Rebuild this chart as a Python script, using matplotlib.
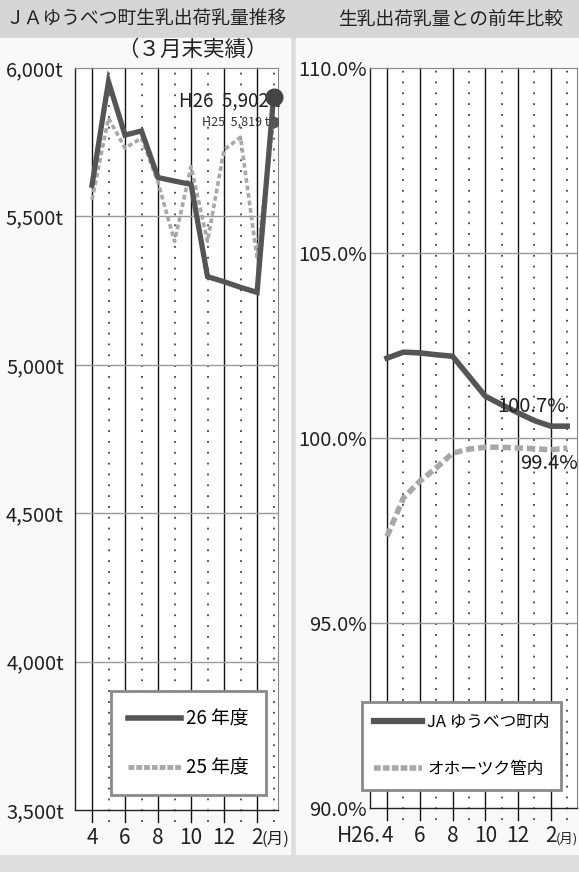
import matplotlib.pyplot as plt
from matplotlib.patches import Rectangle
from matplotlib.lines import Line2D

plt.rcParams['font.family'] = ['Noto Sans CJK JP', 'DejaVu Sans']

W, H = 579, 872

# 月 (4月〜翌3月)
months = [4, 5, 6, 7, 8, 9, 10, 11, 12, 1, 2, 3]
tick_labels = ["4", "6", "8", "10", "12", "2"]

# 生乳出荷乳量 (t)
h26 = [5605, 5954, 5774, 5788, 5631, 5619, 5608, 5297, 5280, 5261, 5244, 5902]
h25 = [5556, 5831, 5730, 5764, 5615, 5416, 5668, 5416, 5724, 5767, 5360, 5819]

# 前年比 (%)
ja_ratio = [102.16, 102.32, 102.30, 102.25, 102.21, 101.67, 101.13, 100.90,
            100.68, 100.47, 100.32, 100.32]
okh_ratio = [97.34, 98.38, 98.83, 99.19, 99.59, 99.70, 99.75, 99.75,
             99.73, 99.71, 99.68, 99.73]

DARK = '#555555'
LIGHT = '#a8a8a8'
TXT = '#222222'

fig = plt.figure(figsize=(W / 100, H / 100), dpi=100)
fig.patch.set_facecolor('#dedede')

# 背景パネル
def px_rect(x0, y0, x1, y1, color):
    fig.patches.append(Rectangle((x0 / W, 1 - y1 / H), (x1 - x0) / W, (y1 - y0) / H,
                                 transform=fig.transFigure, color=color, zorder=-10))

px_rect(0, 0, W, 38, '#d6d6d6')
px_rect(0, 38, 290, 854, '#f9f9f9')
px_rect(296, 38, W, 854, '#f9f9f9')

fig.text(6 / W, 1 - 19 / H, "ＪＡゆうべつ町生乳出荷乳量推移", fontsize=13.5,
         ha='left', va='center', color=TXT)
fig.text(338 / W, 1 - 19 / H, "生乳出荷乳量との前年比較", fontsize=13.5,
         ha='left', va='center', color=TXT)
fig.text(192 / W, 1 - 50 / H, "（３月末実績）", fontsize=15.5,
         ha='center', va='center', color=TXT)

x = list(range(len(months)))

def setup_grid(ax, grid_vals, month_x, month_size):
    for i in x:
        if i % 2 == 0:
            ax.axvline(i, ymin=-0.016, ymax=1, color='#111111', lw=1.0,
                       clip_on=False, zorder=1)
        else:
            ax.axvline(i, ymin=-0.016, ymax=1, color='#444444', lw=1.3,
                       ls=(0, (1, 5)), clip_on=False, zorder=1)
    for v in grid_vals:
        ax.axhline(v, color='#9a9a9a', lw=1.0, zorder=1)
    ax.set_facecolor('white')
    for s in ['top', 'right']:
        ax.spines[s].set_color('#888888')
        ax.spines[s].set_linewidth(0.8)
    for s in ['left', 'bottom']:
        ax.spines[s].set_color('#222222')
        ax.spines[s].set_linewidth(1.0)
    ax.set_xticks(x[::2])
    ax.set_xticklabels(tick_labels, fontsize=15, color=TXT)
    ax.tick_params(axis='x', length=0, pad=12)
    ax.tick_params(axis='y', length=0, pad=8)
    # 「(月)」
    ax.text(month_x, -0.046, "(月)", transform=ax.get_xaxis_transform(),
            fontsize=month_size, ha='left', va='baseline', color=TXT)


# 左: 出荷乳量推移
ax1 = fig.add_axes([75 / W, 1 - 810 / H, 203 / W, 742 / H])
ax1.set_xlim(-1.03, 11.27)
ax1.set_ylim(3500, 6000)
setup_grid(ax1, [5500, 5000, 4500, 4000], 10.3, 12)
yt1 = [3500, 4000, 4500, 5000, 5500, 6000]
ax1.set_yticks(yt1)
ax1.set_yticklabels([f"{v:,}t" for v in yt1], fontsize=14.5, color=TXT)

ax1.plot(x, h25, color=LIGHT, lw=2.6, ls=(0, (1.3, 0.8)), zorder=3)
ax1.plot(x, h26, color=DARK, lw=3.8, solid_joinstyle='miter', zorder=4)
ax1.plot(x[-1], h25[-1], 'o', color=DARK, ms=7, zorder=5)
ax1.plot(x[-1], h26[-1], 'o', color='#444444', ms=12, zorder=6, clip_on=False)

ax1.text(11.4, 5889, "H26  5,902 t", fontsize=13.5, ha='right', va='center',
         color=TXT, zorder=4)
ax1.text(10.75, 5818, "H25  5,819 t", fontsize=9, ha='right', va='center',
         color='#333333', zorder=4)

leg1 = ax1.legend(handles=[Line2D([], [], color=DARK, lw=4),
                           Line2D([], [], color=LIGHT, lw=3.5, ls=(0, (1.2, 0.4)))],
                  labels=["26 年度", "25 年度"], loc='lower right',
                  bbox_to_anchor=(0.94, 0.02), fontsize=13.5, frameon=True,
                  fancybox=False, handlelength=2.8, handletextpad=0.3,
                  labelspacing=1.5, borderpad=0.9, borderaxespad=0)
leg1.get_frame().set_edgecolor('#8a8a8a')
leg1.get_frame().set_linewidth(2)
leg1.get_frame().set_facecolor('white')
leg1.get_frame().set_alpha(1)
leg1.set_zorder(10)

# 右: 前年比
ax2 = fig.add_axes([370 / W, 1 - 808 / H, 207 / W, 740 / H])
ax2.set_xlim(-1.04, 11.6)
ax2.set_ylim(90, 110)
setup_grid(ax2, [105, 100, 95], 10.33, 9.5)
yt2 = [90, 95, 100, 105, 110]
ax2.set_yticks(yt2)
ax2.set_yticklabels([f"{v:.1f}%" for v in yt2], fontsize=14.5, color=TXT)
ax2.tick_params(axis='y', pad=2)
ax2.text(-0.4, -0.046, "H26.", transform=ax2.get_xaxis_transform(), fontsize=15,
         ha='right', va='baseline', color=TXT)

ax2.plot(x, okh_ratio, color=LIGHT, lw=4, ls=(0, (1.5, 0.7)), zorder=3)
ax2.plot(x, ja_ratio, color=DARK, lw=4, zorder=4)

ax2.text(6.7, 100.86, "100.7%", fontsize=14.5, ha='left', va='center',
         color=TXT, zorder=5, clip_on=False)
ax2.text(8.1, 99.32, "99.4%", fontsize=14.5, ha='left', va='center',
         color=TXT, zorder=5)

leg2 = ax2.legend(handles=[Line2D([], [], color=DARK, lw=4.5),
                           Line2D([], [], color=LIGHT, lw=4, ls=(0, (1.2, 0.4)))],
                  labels=["JA ゆうべつ町内", "オホーツク管内"], loc='lower right',
                  bbox_to_anchor=(0.925, 0.025), fontsize=12, frameon=True,
                  fancybox=False, handlelength=2.9, handletextpad=0.3,
                  labelspacing=1.8, borderpad=0.7, borderaxespad=0)
leg2.get_frame().set_edgecolor('#8a8a8a')
leg2.get_frame().set_linewidth(2)
leg2.get_frame().set_facecolor('white')
leg2.get_frame().set_alpha(1)
leg2.set_zorder(10)

fig.savefig("out.png", dpi=100, facecolor=fig.get_facecolor())
